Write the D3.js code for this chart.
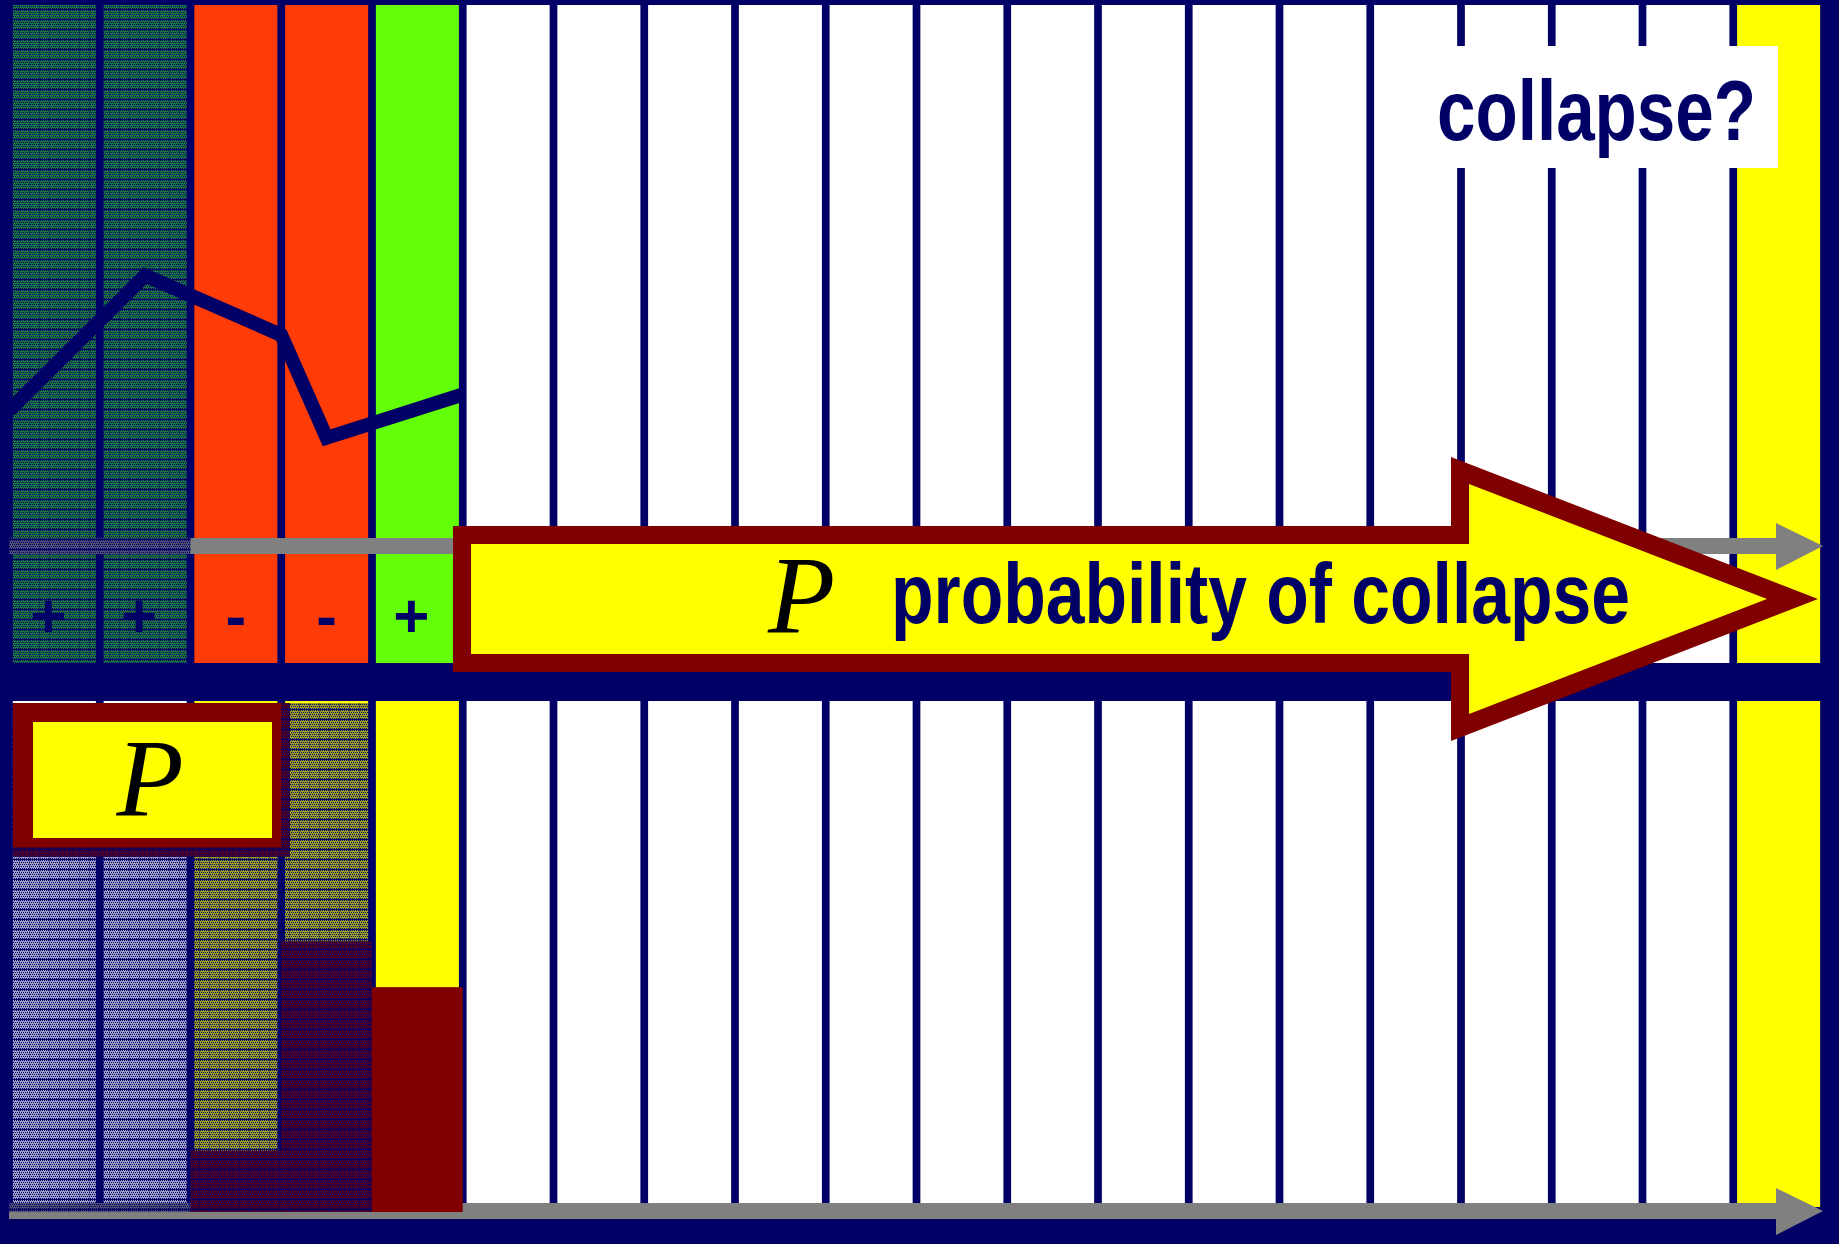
<!DOCTYPE html>
<html>
<head>
<meta charset="utf-8">
<script src="https://cdn.jsdelivr.net/npm/d3@7"></script>
<style>
  body { margin: 0; background: #000066; }
  svg { display: block; }
</style>
</head>
<body>
<svg></svg>
<script>
const width = 1839;
const height = 1244;

// 20 time slots
const slots = d3.range(20);

// state of each slot in the upper strip and in the lower strip
const topState = ["past", "past", "neg", "neg", "pos",
  "open", "open", "open", "open", "open", "open", "open", "open", "open", "open", "open", "open", "open", "open",
  "end"];
const bottomState = ["open", "open", "risk", "risk", "risk",
  "open", "open", "open", "open", "open", "open", "open", "open", "open", "open", "open", "open", "open", "open",
  "end"];

// sign under each of the first slots
const signs = ["+", "+", "-", "-", "+"];

// line in the upper strip (position in slot units, value 0-100)
const linePos = [-0.5, 1, 2.5, 3, 4.5];
const lineValues = [25, 50, 39, 20, 28];

// probability bars in the lower strip
const probSlots = [2, 3, 4];
const probValues = [12, 53, 44];

// slots that are already behind us (faded)
const fadedTop = [0, 1];
const fadedBottom = [0, 1, 2, 3];

const navy = "#000066";
// narrow bold look: Liberation Sans Bold squeezed to Arial Narrow width
const narrowFont = "'Liberation Sans', Arial, sans-serif";

const svg = d3.select("svg")
    .attr("width", width)
    .attr("height", height);

const fill = d3.scaleOrdinal()
    .domain(["past", "neg", "pos", "open", "end", "risk"])
    .range(["#2cc02a", "#ff3c05", "#62ff06", "#ffffff", "#ffff00", "#ffff00"]);

const x = d3.scaleBand()
    .domain(slots)
    .range([9, 1824])
    .paddingInner(0.085)
    .paddingOuter(0.0425);

const step = x.step();
const gap = step - x.bandwidth();
const xPos = d3.scaleLinear()
    .domain([0, 1])
    .range([x(0) + x.bandwidth() / 2, x(1) + x.bandwidth() / 2]);

const upper = { y0: 5, y1: 663, axis: 546 };
const lower = { y0: 701, y1: 1207, axis: 1211, base: 1212 };

const yTop = d3.scaleLinear().domain([0, 100]).range([upper.axis, upper.y0]);
const yBot = d3.scaleLinear().domain([0, 100]).range([lower.base, lower.y0]);

// dither pattern for the faded part
const defs = svg.append("defs");
const pat = defs.append("pattern")
    .attr("id", "dither")
    .attr("patternUnits", "userSpaceOnUse")
    .attr("width", 10)
    .attr("height", 10);
pat.append("rect").attr("width", 10).attr("height", 10)
    .attr("fill", navy).attr("fill-opacity", 0.38);
for (let r = 0; r < 9; r++) {
    for (let c = 0; c < 10; c++) {
        if ((r % 2 === 0) && ((c + r / 2) % 2 === 0)) {
            pat.append("rect").attr("x", c).attr("y", r)
                .attr("width", 1).attr("height", 1).attr("fill", navy);
        }
    }
}
pat.append("rect").attr("y", 9).attr("width", 10).attr("height", 1).attr("fill", navy);
pat.append("rect").attr("x", 9).attr("width", 1).attr("height", 10)
    .attr("fill", navy).attr("fill-opacity", 0.4);

svg.append("rect")
    .attr("width", width)
    .attr("height", height)
    .attr("fill", navy);

// columns
svg.append("g").selectAll("rect")
    .data(slots)
    .enter().append("rect")
    .attr("x", d => x(d))
    .attr("y", upper.y0)
    .attr("width", x.bandwidth())
    .attr("height", upper.y1 - upper.y0)
    .attr("fill", d => fill(topState[d]));

svg.append("g").selectAll("rect")
    .data(slots)
    .enter().append("rect")
    .attr("x", d => x(d))
    .attr("y", lower.y0)
    .attr("width", x.bandwidth())
    .attr("height", lower.y1 - lower.y0)
    .attr("fill", d => fill(bottomState[d]));

// time axes
function timeAxis(cy) {
    const [x0, x1] = x.range();
    const tip = x1 - 1;
    const head = 47;
    const g = svg.append("g").attr("fill", "#808080");
    g.append("rect")
        .attr("x", x0)
        .attr("y", cy - 8)
        .attr("width", tip - head - x0)
        .attr("height", 16);
    g.append("path")
        .attr("d", `M${tip - head},${cy - 23}L${tip},${cy}L${tip - head},${cy + 24}Z`);
}
timeAxis(upper.axis);
timeAxis(lower.axis);

// line
const line = d3.line()
    .x((d, i) => xPos(linePos[i]))
    .y(d => yTop(d));

svg.append("path")
    .datum(lineValues)
    .attr("d", line)
    .attr("fill", "none")
    .attr("stroke", navy)
    .attr("stroke-width", 14)
    .attr("stroke-linejoin", "miter");

// probability bars
svg.append("g").selectAll("rect")
    .data(probSlots)
    .enter().append("rect")
    .attr("x", d => x(d) - gap / 2)
    .attr("y", (d, i) => yBot(probValues[i]))
    .attr("width", step)
    .attr("height", (d, i) => lower.base - yBot(probValues[i]))
    .attr("fill", "#800000");

// faded overlays
const fadeX0 = x.range()[0];
svg.append("rect")
    .attr("x", fadeX0)
    .attr("y", upper.y0)
    .attr("width", x(fadedTop[fadedTop.length - 1]) + x.bandwidth() + gap / 2 - fadeX0)
    .attr("height", upper.y1 - upper.y0)
    .attr("fill", "url(#dither)");

svg.append("rect")
    .attr("x", fadeX0)
    .attr("y", lower.y0 + 2)
    .attr("width", x(fadedBottom[fadedBottom.length - 1]) + x.bandwidth() + gap / 2 - fadeX0)
    .attr("height", lower.base - lower.y0 - 2)
    .attr("fill", "url(#dither)");

// signs
svg.append("g").selectAll("text")
    .data(signs)
    .enter().append("text")
    .attr("x", (d, i) => x(i) + x.bandwidth() / 2 - (d === "+" ? 6 : 0))
    .attr("y", 637)
    .attr("text-anchor", "middle")
    .attr("font-family", "'Liberation Sans', Arial, sans-serif")
    .attr("font-weight", "bold")
    .attr("font-size", 62)
    .attr("fill", navy)
    .text(d => d);

// P box in lower strip
const pBox = svg.append("g");
pBox.append("rect")
    .attr("x", 13).attr("y", 703).attr("width", 277).attr("height", 154)
    .attr("fill", "#800000");
pBox.append("rect")
    .attr("x", 13).attr("y", 703).attr("width", 277).attr("height", 154)
    .attr("fill", "url(#dither)");
pBox.append("rect")
    .attr("x", 13).attr("y", 703).attr("width", 268).attr("height", 144)
    .attr("fill", "#800000");
pBox.append("rect")
    .attr("x", 33).attr("y", 722).attr("width", 239).attr("height", 116)
    .attr("fill", "#ffff00");
pBox.append("text")
    .attr("x", 150).attr("y", 815)
    .attr("text-anchor", "middle")
    .attr("font-family", "'Liberation Serif', 'Times New Roman', serif")
    .attr("font-style", "italic")
    .attr("font-size", 110)
    .attr("fill", "#000000")
    .text("P");

// big arrow
const big = svg.append("g");
big.append("path")
    .attr("d", "M453,526L1451,526L1451,457L1818,599L1451,741L1451,672L453,672Z")
    .attr("fill", "#800000");
big.append("path")
    .attr("d", "M471,544L1469,544L1469,484L1767,599L1469,714L1469,654L471,654Z")
    .attr("fill", "#ffff00");
big.append("text")
    .attr("x", 768).attr("y", 632)
    .attr("font-family", "'Liberation Serif', 'Times New Roman', serif")
    .attr("font-style", "italic")
    .attr("font-size", 110)
    .attr("fill", "#000000")
    .text("P");
big.append("text")
    .attr("x", 891).attr("y", 623)
    .attr("font-family", narrowFont)
    .attr("font-weight", "bold")
    .attr("font-size", 85)
    .attr("textLength", 739)
    .attr("lengthAdjust", "spacingAndGlyphs")
    .attr("fill", navy)
    .text("probability of collapse");

// collapse? label
svg.append("rect")
    .attr("x", 1415).attr("y", 46).attr("width", 363).attr("height", 122)
    .attr("fill", "#ffffff");
svg.append("text")
    .attr("x", 1437).attr("y", 140)
    .attr("font-family", narrowFont)
    .attr("font-weight", "bold")
    .attr("font-size", 85)
    .attr("textLength", 319)
    .attr("lengthAdjust", "spacingAndGlyphs")
    .attr("fill", navy)
    .text("collapse?");
</script>
</body>
</html>
